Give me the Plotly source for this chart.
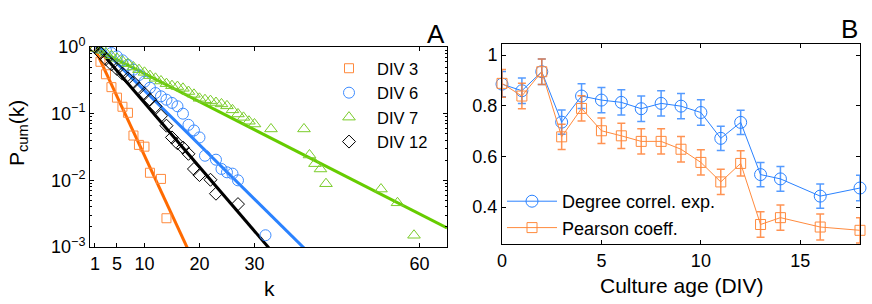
import plotly.graph_objects as go

# ---------------- Panel A data (cumulative degree distributions) ----------------
k_div3 = [1, 2, 3, 4, 5, 6, 7, 8, 9, 10, 11, 13, 14]
p_div3 = [1.0, 0.60, 0.39, 0.25, 0.174, 0.127, 0.103, 0.047, 0.034, 0.032, 0.013, 0.0105, 0.0027]

k_div6 = [1, 2, 3, 4, 5, 6, 7, 8, 9, 10, 11, 12, 13, 14, 15, 16, 17, 18, 19, 20, 21, 23, 24, 25, 26, 27, 32]
p_div6 = [1.0, 0.955, 0.891, 0.813, 0.724, 0.631, 0.537, 0.457, 0.380, 0.302, 0.245, 0.204, 0.182,
          0.162, 0.145, 0.129, 0.100, 0.068, 0.056, 0.044, 0.0234, 0.0204, 0.0148, 0.0132, 0.0126,
          0.010, 0.0015]

k_div7 = [1, 2, 3, 4, 5, 6, 7, 8, 9, 10, 11, 12, 13, 14, 15, 16, 17, 18, 19, 20, 21, 22, 23, 24, 25,
          26, 27, 28, 29, 30, 33, 39, 40, 41, 42, 43, 53, 56, 59]
p_div7 = [0.955, 0.891, 0.813, 0.741, 0.676, 0.617, 0.562, 0.501, 0.457, 0.417, 0.372, 0.339, 0.309,
          0.282, 0.263, 0.255, 0.240, 0.215, 0.195, 0.170, 0.162, 0.157, 0.147, 0.140, 0.131, 0.114,
          0.099, 0.088, 0.077, 0.070, 0.059, 0.059, 0.024, 0.0178, 0.0148, 0.0089, 0.0074, 0.0046,
          0.0015]

k_div12 = [1, 2, 3, 4, 5, 6, 7, 8, 9, 10, 11, 12, 13, 14, 15, 16, 17, 18, 19, 20, 22, 23, 27]
p_div12 = [1.0, 0.813, 0.661, 0.550, 0.468, 0.398, 0.339, 0.295, 0.240, 0.200, 0.162, 0.129, 0.093,
           0.066, 0.044, 0.036, 0.031, 0.025, 0.0148, 0.012, 0.0102, 0.0063, 0.0044]

# exponential fits (end points)
fit_k_div3 = [1, 18]
fit_p_div3 = [0.94, 0.00089]
fit_k_div6 = [2, 39.5]
fit_p_div6 = [1.0, 0.00088]
fit_k_div7 = [1.5, 65]
fit_p_div7 = [0.91, 0.00193]
fit_k_div12 = [1.3, 33]
fit_p_div12 = [1.0, 0.00089]

a_xticks = [1, 5, 10, 20, 30, 60]
a_yticks = [0.001, 0.01, 0.1, 1]
a_yticklabels = ["10<sup>\u22123</sup>", "10<sup>\u22122</sup>", "10<sup>\u22121</sup>", "10<sup>0</sup>"]

# ---------------- Panel B data ----------------
age = [0, 1, 2, 3, 4, 5, 6, 7, 8, 9, 10, 11, 12, 13, 14, 16, 18]
degree_corr = [0.885, 0.859, 0.934, 0.735, 0.838, 0.822, 0.813, 0.788, 0.809, 0.798, 0.773, 0.671,
               0.734, 0.528, 0.511, 0.443, 0.475]
degree_err = [0.05, 0.05, 0.05, 0.048, 0.049, 0.05, 0.05, 0.05, 0.05, 0.05, 0.05, 0.048, 0.048, 0.048,
              0.049, 0.048, 0.05]
pearson = [0.888, 0.838, 0.934, 0.677, 0.789, 0.701, 0.681, 0.659, 0.659, 0.628, 0.576, 0.499, 0.572,
           0.331, 0.358, 0.321, 0.308]
pearson_err = [0.055, 0.05, 0.05, 0.05, 0.05, 0.05, 0.05, 0.05, 0.05, 0.05, 0.05, 0.05, 0.05, 0.05,
               0.05, 0.051, 0.05]
b_xticks = [0, 5, 10, 15]
b_yticks = [0.4, 0.6, 0.8, 1.0]
b_yticklabels = ["0.4", "0.6", "0.8", "1"]

ORANGE_L, ORANGE_M = "#ff6a00", "#ff8a3d"
BLUE_L, BLUE_M = "#2a82ff", "#3d8cff"
GREEN_L, GREEN_M = "#66cc00", "#7acc2a"
FONT = "Liberation Sans, Arial, sans-serif"

W, H = 872, 304


def px_x(p):
    return p / W


def px_y(p):
    return 1 - p / H


fig = go.Figure()

# fit lines (panel A)
for fk, fp, col in [(fit_k_div3, fit_p_div3, ORANGE_L), (fit_k_div6, fit_p_div6, BLUE_L),
                    (fit_k_div7, fit_p_div7, GREEN_L), (fit_k_div12, fit_p_div12, "#000000")]:
    fig.add_trace(go.Scatter(x=fk, y=fp, mode="lines", line=dict(color=col, width=3),
                             showlegend=False, xaxis="x", yaxis="y", hoverinfo="skip"))

# markers (panel A)
for kk, pp, name, sym, col, sz in [
    (k_div3, p_div3, "DIV 3", "square-open", ORANGE_M, 9),
    (k_div6, p_div6, "DIV 6", "circle-open", BLUE_M, 11),
    (k_div7, p_div7, "DIV 7", "triangle-up-open", GREEN_M, 11),
    (k_div12, p_div12, "DIV 12", "diamond-open", "#000000", 10),
]:
    fig.add_trace(go.Scatter(x=kk, y=pp, mode="markers", name=name,
                             marker=dict(symbol=sym, size=sz, color=col, line=dict(width=1, color=col)),
                             xaxis="x", yaxis="y", legend="legend"))

# panel B
fig.add_trace(go.Scatter(x=age, y=degree_corr, mode="lines+markers", name="Degree correl. exp.",
                         line=dict(color=BLUE_L, width=1),
                         marker=dict(symbol="circle-open", size=12, color=BLUE_L, line=dict(width=1)),
                         error_y=dict(type="data", array=degree_err, color="rgba(42,130,255,0.8)",
                                      thickness=1.5, width=4),
                         xaxis="x2", yaxis="y2", legend="legend2", cliponaxis=False))
fig.add_trace(go.Scatter(x=age, y=pearson, mode="lines+markers", name="Pearson coeff.",
                         line=dict(color=ORANGE_M, width=1),
                         marker=dict(symbol="square-open", size=10, color=ORANGE_M, line=dict(width=1)),
                         error_y=dict(type="data", array=pearson_err, color="rgba(255,120,40,0.8)",
                                      thickness=1.5, width=4),
                         xaxis="x2", yaxis="y2", legend="legend2", cliponaxis=False))

minor_vals = [m * d for d in [0.001, 0.01, 0.1] for m in range(2, 10)]

axis_common = dict(showline=True, linecolor="black", linewidth=1, mirror="ticks", ticks="inside",
                   ticklen=4, tickcolor="black", showgrid=False, zeroline=False, automargin=False,
                   tickfont=dict(family=FONT, size=18, color="black"))

fig.update_layout(
    width=W, height=H, margin=dict(l=0, r=0, t=0, b=0, pad=0, autoexpand=False),
    paper_bgcolor="white", plot_bgcolor="white",
    font=dict(family=FONT, color="black"),
    xaxis=dict(domain=[px_x(90), px_x(447)], range=[0.1, 65], tickmode="array", tickvals=a_xticks,
               anchor="y", **axis_common),
    yaxis=dict(domain=[px_y(247), px_y(47)], type="log", range=[-3, 0], tickmode="array",
               tickvals=a_yticks, ticktext=a_yticklabels, anchor="x",
               minor=dict(ticks="inside", ticklen=2, tickcolor="black", tickvals=minor_vals),
               **axis_common),
    xaxis2=dict(domain=[px_x(502), px_x(860)], range=[0, 18], tickmode="array", tickvals=b_xticks,
                anchor="y2", **axis_common),
    yaxis2=dict(domain=[px_y(244), px_y(44)], range=[0.254, 1.0434], tickmode="array",
                tickvals=b_yticks, ticktext=b_yticklabels, anchor="x2", **axis_common),
    legend=dict(x=px_x(321), y=px_y(51), xanchor="left", yanchor="top", bgcolor="rgba(0,0,0,0)",
                font=dict(family=FONT, size=16.5, color="black"), itemwidth=46,
                tracegroupgap=0),
    legend2=dict(x=px_x(502), y=px_y(183), xanchor="left", yanchor="top", bgcolor="rgba(0,0,0,0)",
                 font=dict(family=FONT, size=18, color="black"), itemwidth=50,
                 traceorder="grouped", tracegroupgap=1),
    showlegend=True,
)

ann = [
    dict(text="k", x=px_x(269), y=px_y(288), font=dict(size=21)),
    dict(text="Culture age (DIV)", x=px_x(681), y=px_y(285), font=dict(size=21)),
    dict(text="P<sub>cum</sub>(k)", x=px_x(18), y=px_y(133), font=dict(size=21), textangle=-90),
    dict(text="A", x=px_x(447), y=px_y(34), font=dict(size=26), xanchor="right"),
    dict(text="B", x=px_x(860), y=px_y(29), font=dict(size=26), xanchor="right"),
]
for a in ann:
    a.setdefault("xanchor", "center")
    a.update(xref="paper", yref="paper", yanchor="middle", showarrow=False)
    a["font"] = dict(family=FONT, color="black", **a["font"])
fig.update_layout(annotations=ann)

fig.write_html("out.html", config={"displayModeBar": False},
               post_script="document.body.style.margin='0';document.body.style.padding='0';"
                           "document.body.style.overflow='hidden';")
